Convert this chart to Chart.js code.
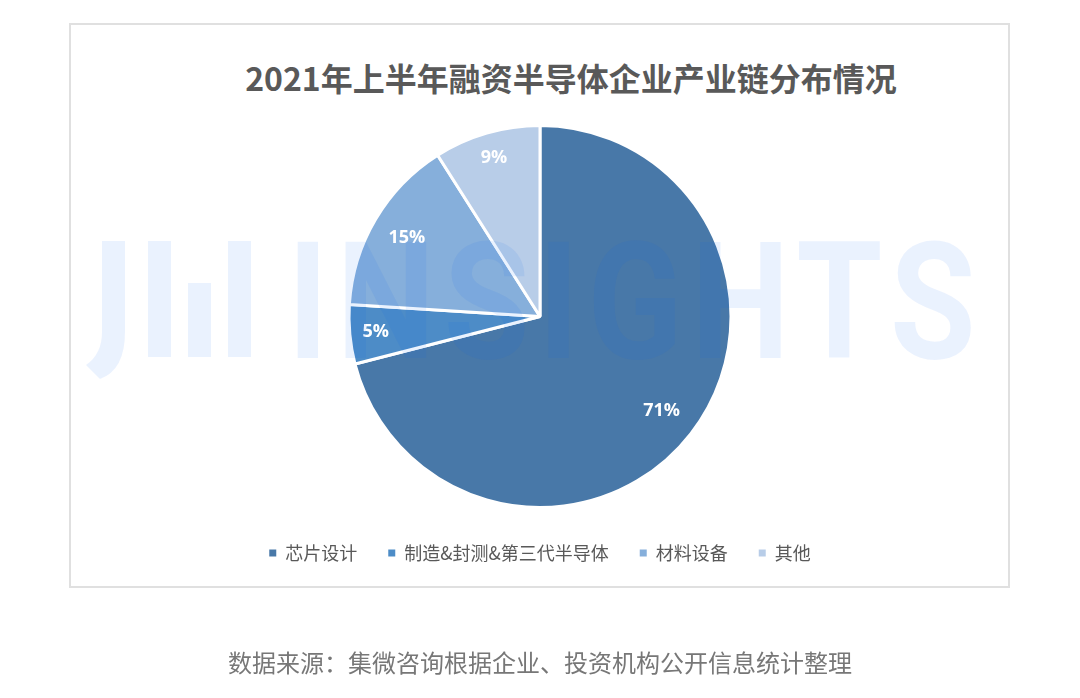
<!DOCTYPE html>
<html>
<head>
<meta charset="utf-8">
<script src="https://cdn.jsdelivr.net/npm/chart.js@4.4.1/dist/chart.umd.min.js"></script>
<style>
  html, body { margin: 0; padding: 0; background: #fff; }
  #page { position: relative; width: 1080px; height: 698px; overflow: hidden; }
  #frame { position: absolute; left: 69px; top: 23px; width: 937px; height: 561px; border: 2px solid #e0e0e0; }
  #title { position: absolute; left: 0; top: 55px; width: 1080px; padding-left: 62px; box-sizing: border-box;
           text-align: center; font: bold 32px/44px "Noto Sans CJK SC", sans-serif; color: #595959; }
  #wrap { position: absolute; left: 0; top: 0; width: 1080px; height: 698px; }
  #source { position: absolute; left: 0; top: 645px; width: 1080px; text-align: center;
            font: 24px/34px "Noto Sans CJK SC", sans-serif; color: #777; }
</style>
</head>
<body>
<div id="page">
  <div id="frame"></div>
  <div id="title">2021年上半年融资半导体企业产业链分布情况</div>
  <div id="wrap"><canvas id="c"></canvas></div>
  <div id="source">数据来源：集微咨询根据企业、投资机构公开信息统计整理</div>
</div>
<script>
const categories = ['芯片设计', '制造&封测&第三代半导体', '材料设备', '其他'];
const shares = [71, 5, 15, 9];
const sliceColors = ['#4878A8', '#4D8CC7', '#86AFDB', '#B8CDE8'];

// how far out each % label sits, as a share of the radius
const labelRadius = [0.806, 0.864, 0.81, 0.863];

const sliceLabels = {
  id: 'sliceLabels',
  afterDatasetsDraw(chart) {
    const ctx = chart.ctx;
    const meta = chart.getDatasetMeta(0);
    ctx.save();
    ctx.font = 'bold 18px "Open Sans", sans-serif';
    ctx.fillStyle = '#fff';
    ctx.textAlign = 'center';
    ctx.textBaseline = 'middle';
    meta.data.forEach((arc, i) => {
      const p = arc.getProps(['x', 'y', 'startAngle', 'endAngle', 'outerRadius']);
      const mid = (p.startAngle + p.endAngle) / 2;
      const r = p.outerRadius * labelRadius[i];
      ctx.fillText(shares[i] + '%', p.x + Math.cos(mid) * r, p.y + Math.sin(mid) * r);
    });
    ctx.restore();
  }
};

// faint "JI INSIGHTS" watermark laid over the chart
const watermark = {
  id: 'watermark',
  afterDraw(chart) {
    const ctx = chart.ctx;
    ctx.save();
    ctx.fillStyle = 'rgba(0, 97, 243, 0.082)';
    ctx.beginPath();
    ctx.moveTo(102, 241);
    ctx.lineTo(125, 241);
    ctx.lineTo(125, 332);
    ctx.quadraticCurveTo(125, 370, 100, 379);
    ctx.lineTo(86, 365);
    ctx.quadraticCurveTo(102, 354, 102, 332);
    ctx.closePath();
    ctx.fill();
    ctx.fillRect(148, 241, 23, 116);
    ctx.fillRect(188, 283, 23, 74);
    ctx.fillRect(228, 241, 23, 116);

    ctx.font = 'bold 160px Roboto, sans-serif';
    ctx.letterSpacing = '10px';
    ctx.textBaseline = 'alphabetic';
    const m = ctx.measureText('INSIGHTS');
    const inkW = m.actualBoundingBoxLeft + m.actualBoundingBoxRight;
    const capH = m.actualBoundingBoxAscent;
    ctx.translate(297, 358);
    ctx.scale(674 / inkW, 117 / capH);
    ctx.fillText('INSIGHTS', m.actualBoundingBoxLeft, 0);
    ctx.restore();
  }
};

function legendItems(chart) {
  const items = Chart.overrides.pie.plugins.legend.labels.generateLabels(chart);
  items.forEach(it => { it.lineWidth = 0; it.strokeStyle = 'rgba(0,0,0,0)'; });
  return items;
}

new Chart(document.getElementById('c'), {
  type: 'pie',
  data: {
    labels: categories,
    datasets: [{
      data: shares,
      backgroundColor: sliceColors,
      borderColor: '#fff',
      borderWidth: 3,
      radius: 191
    }]
  },
  options: {
    responsive: true,
    maintainAspectRatio: false,
    animation: false,
    layout: { padding: { top: 120, bottom: 126, left: 0, right: 0 } },
    plugins: {
      legend: {
        position: 'bottom',
        labels: {
          boxWidth: 7,
          boxHeight: 7,
          padding: 31,
          color: '#595959',
          font: { family: '"Noto Sans CJK SC", sans-serif', size: 18 },
          generateLabels: legendItems
        }
      },
      tooltip: { enabled: false }
    }
  },
  plugins: [sliceLabels, watermark]
});
</script>
</body>
</html>
